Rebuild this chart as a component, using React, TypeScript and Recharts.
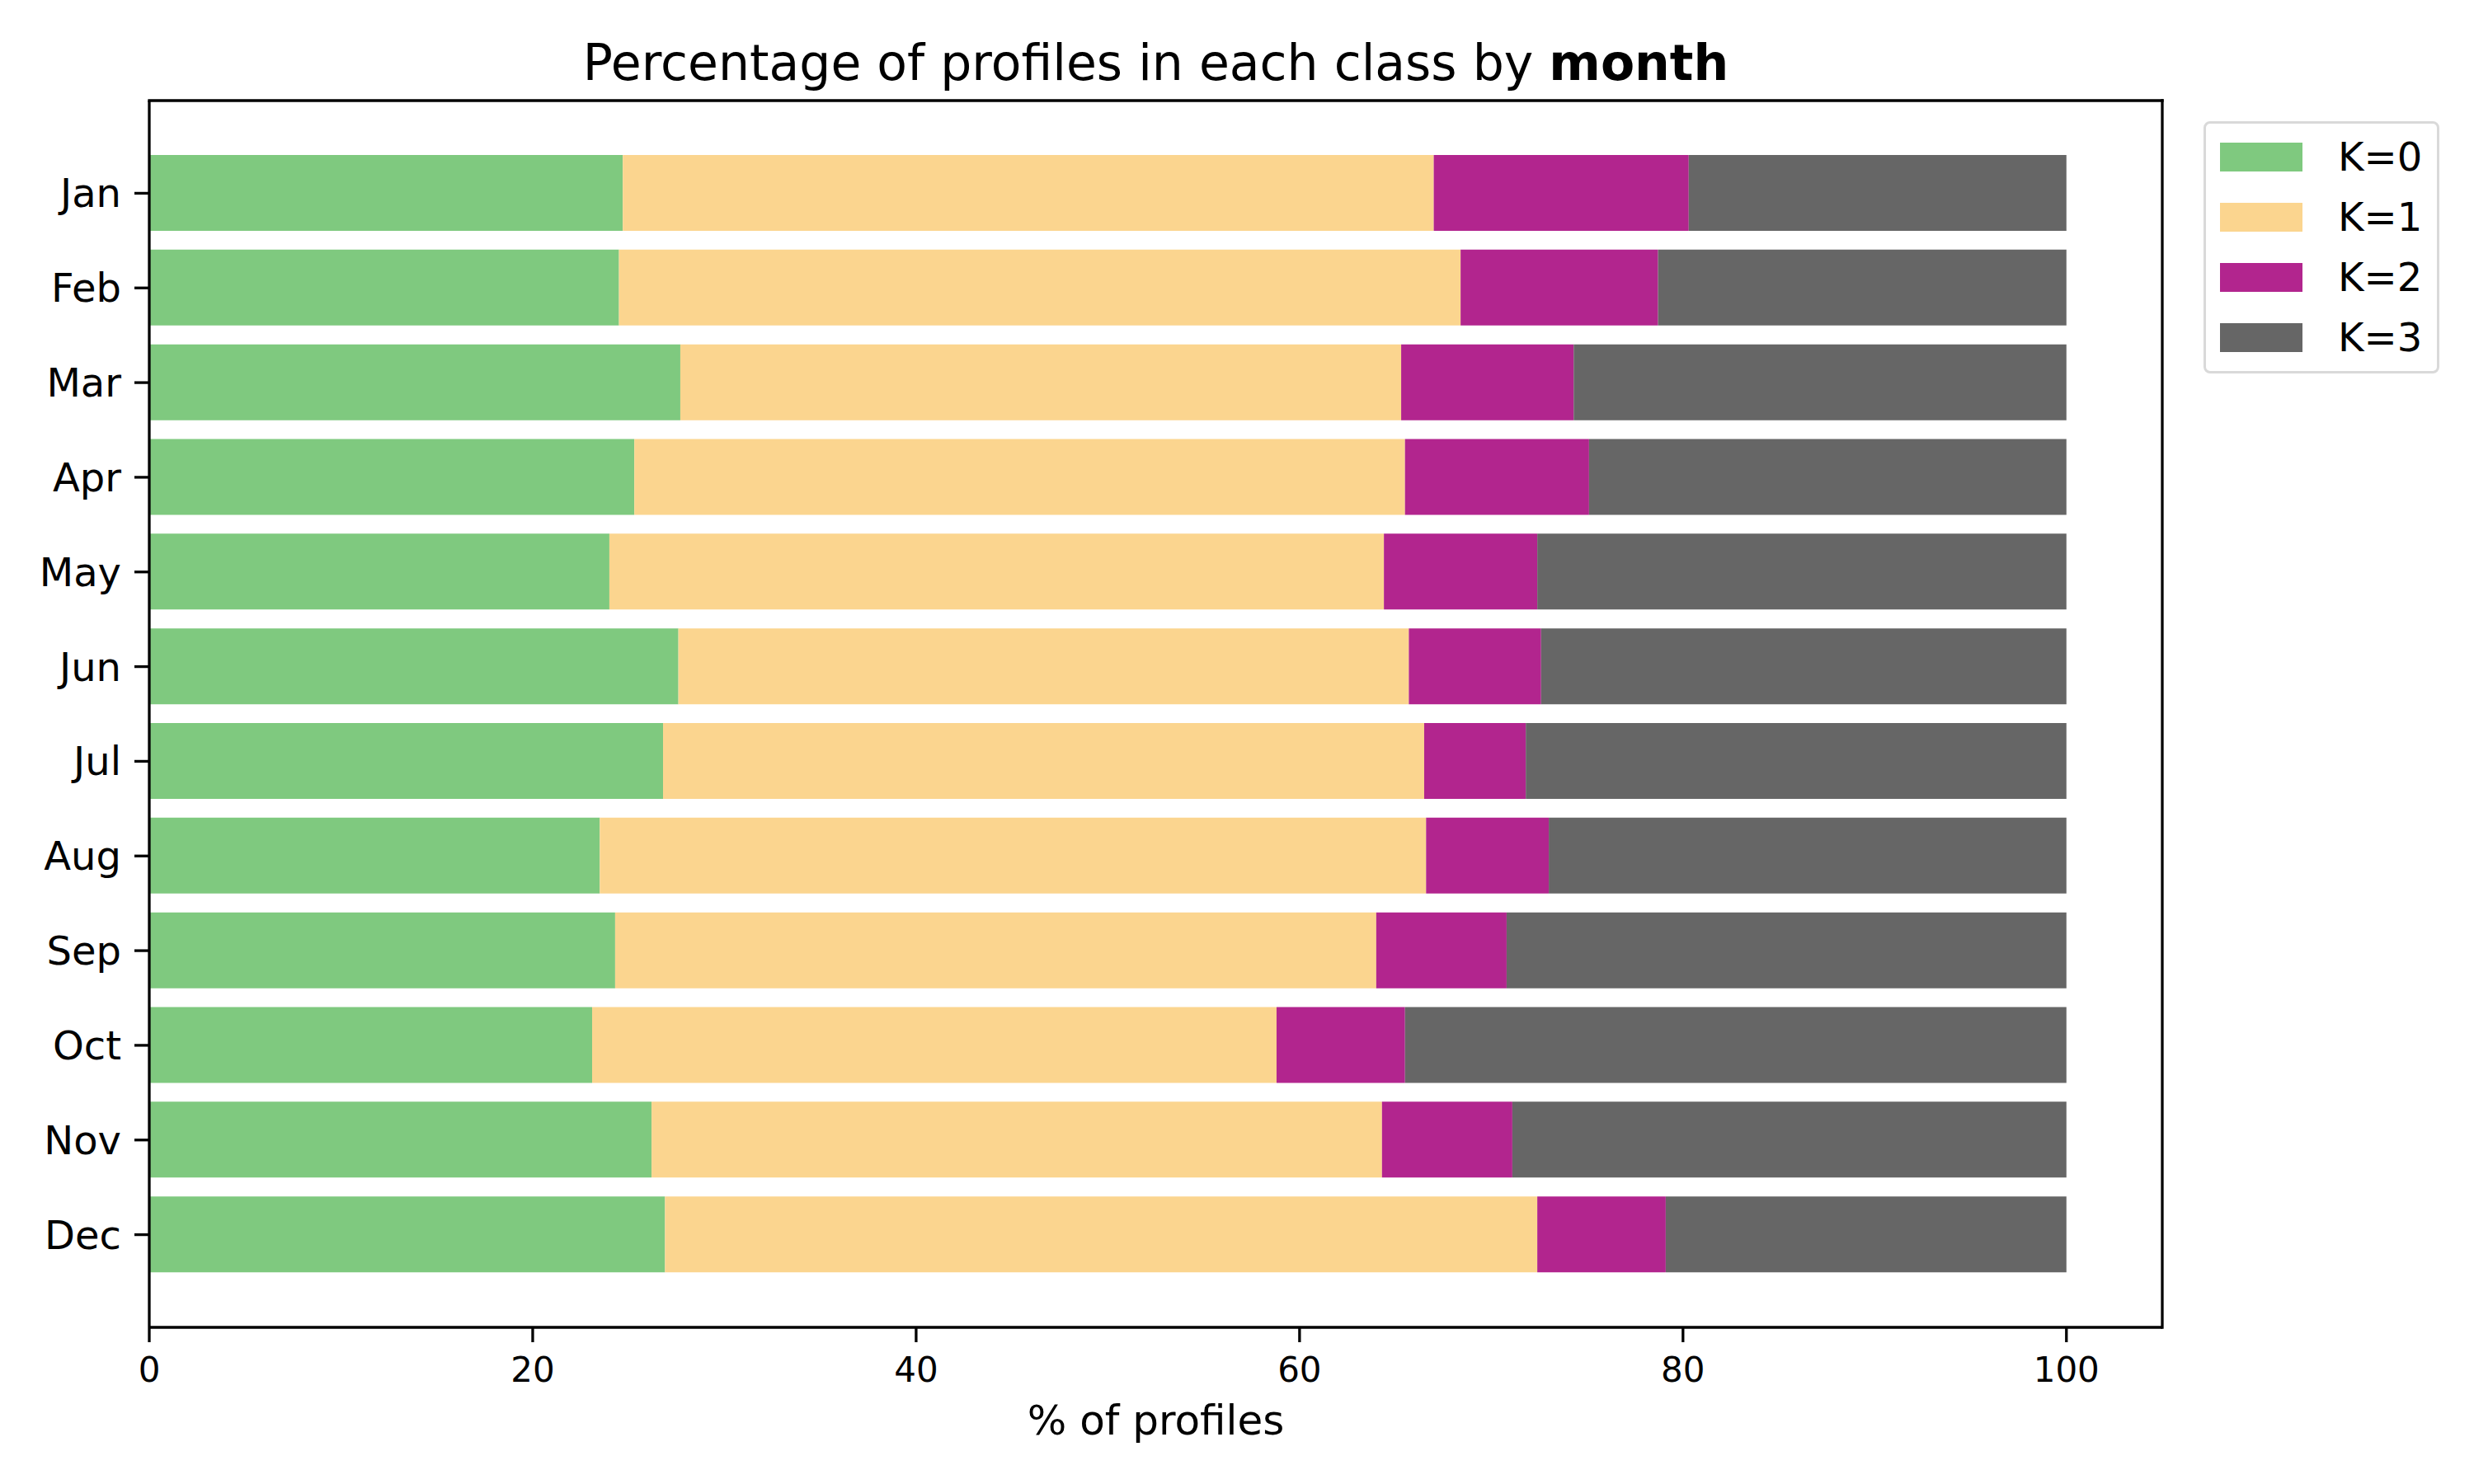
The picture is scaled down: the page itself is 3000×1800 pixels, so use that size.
import React from "react";
import { BarChart, Bar, XAxis, YAxis, Customized } from "recharts";

const MONTHS = ["Jan", "Feb", "Mar", "Apr", "May", "Jun", "Jul", "Aug", "Sep", "Oct", "Nov", "Dec"];
const K0 = [24.7, 24.5, 27.7, 25.3, 24.0, 27.6, 26.8, 23.5, 24.3, 23.1, 26.2, 26.9];
const K1 = [42.3, 43.9, 37.6, 40.2, 40.4, 38.1, 39.7, 43.1, 39.7, 35.7, 38.1, 45.5];
const K2 = [13.3, 10.3, 9.0, 9.6, 8.0, 6.9, 5.3, 6.4, 6.8, 6.7, 6.8, 6.7];
const K3 = [19.7, 21.3, 25.7, 24.9, 27.6, 27.4, 28.2, 27.0, 29.2, 34.5, 28.9, 20.9];
const X_TICKS = [0, 20, 40, 60, 80, 100];

const SERIES = [
  { key: "k0", name: "K=0", color: "#7fc97f" },
  { key: "k1", name: "K=1", color: "#fbd58f" },
  { key: "k2", name: "K=2", color: "#b2258e" },
  { key: "k3", name: "K=3", color: "#666666" },
];

const data = MONTHS.map((m, i) => ({ month: m, k0: K0[i], k1: K1[i], k2: K2[i], k3: K3[i] }));

const FONT = "'DejaVu Sans', sans-serif";
const SPINE = { stroke: "#000", strokeWidth: 3.3 };

const W = 3000;
const H = 1800;
const MARGIN = { top: 122, right: 378, bottom: 130, left: 0 };
const Y_AXIS_W = 181;
const X_AXIS_H = 60;
// plot frame edges, used for the top/right spines
const PLOT_L = MARGIN.left + Y_AXIS_W;
const PLOT_R = W - MARGIN.right;
const PLOT_T = MARGIN.top;
const PLOT_B = H - MARGIN.bottom - X_AXIS_H;
const MID_X = (PLOT_L + PLOT_R) / 2;

// legend drawn like matplotlib's boxed legend, outside the plot
const LegendBox = () => (
  <div
    style={{
      position: "absolute",
      left: 2672,
      top: 147,
      width: 280,
      height: 300,
      border: "3px solid #d9d9d9",
      borderRadius: 8,
      background: "#fff",
      fontFamily: FONT,
    }}
  >
    {SERIES.map((s, i) => (
      <div key={s.key} style={{ position: "absolute", left: 17, top: 20 + i * 73, height: 40, display: "flex", alignItems: "center" }}>
        <div style={{ width: 100, height: 35, background: s.color }} />
        <span style={{ marginLeft: 43, fontSize: 48, lineHeight: "40px", color: "#000" }}>{s.name}</span>
      </div>
    ))}
  </div>
);

export default function App() {
  return (
    <div style={{ position: "absolute", left: 0, top: 0, width: W, height: H, background: "#fff", fontFamily: FONT }}>
      <BarChart width={W} height={H} data={data} layout="vertical" margin={MARGIN}>
        <XAxis
          type="number"
          domain={[0, 105]}
          ticks={X_TICKS}
          allowDataOverflow
          height={X_AXIS_H}
          tickSize={18}
          tickMargin={18}
          tick={{ fontSize: 42, fill: "#000", fontFamily: FONT }}
          axisLine={SPINE}
          tickLine={SPINE}
        />
        <YAxis
          type="category"
          dataKey="month"
          width={Y_AXIS_W}
          padding={{ top: 55, bottom: 55 }}
          tickSize={18}
          tickMargin={16}
          tick={{ fontSize: 48, fill: "#000", fontFamily: FONT }}
          axisLine={SPINE}
          tickLine={SPINE}
        />
        {SERIES.map((s) => (
          <Bar key={s.key} dataKey={s.key} name={s.name} stackId="a" fill={s.color} barSize={92} isAnimationActive={false} />
        ))}
        <Customized
          component={
            <g>
              <line x1={PLOT_L} y1={PLOT_T} x2={PLOT_R} y2={PLOT_T} {...SPINE} strokeLinecap="square" />
              <line x1={PLOT_R} y1={PLOT_T} x2={PLOT_R} y2={PLOT_B} {...SPINE} strokeLinecap="square" />
              <text x={MID_X} y={97} textAnchor="middle" fontSize={60} fontFamily={FONT} fill="#000">
                Percentage of profiles in each class by <tspan fontWeight="bold">month</tspan>
              </text>
              <text x={MID_X} y={1740} textAnchor="middle" fontSize={50} fontFamily={FONT} fill="#000">
                % of profiles
              </text>
            </g>
          }
        />
      </BarChart>
      <LegendBox />
    </div>
  );
}
